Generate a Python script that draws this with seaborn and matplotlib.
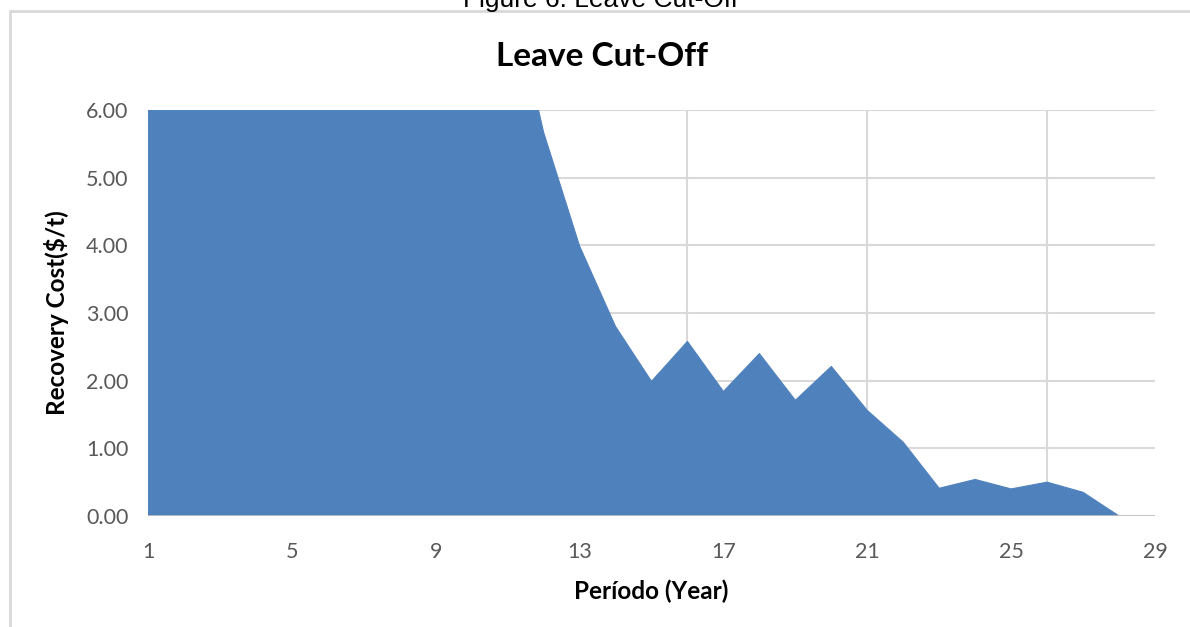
import matplotlib
matplotlib.use("Agg")
import matplotlib.pyplot as plt
import seaborn as sns
import pandas as pd
from matplotlib.patches import Rectangle

# ---- data (years 1-11 exceed the 6.00 axis limit) ----
years = list(range(1, 29))
recovery_cost = [60.0, 45.0, 35.0, 28.0, 22.0, 18.0, 15.0, 12.5, 10.5, 9.2, 8.0,
                 5.67, 3.99, 2.80, 1.99, 2.58, 1.84, 2.40, 1.71, 2.21, 1.56,
                 1.09, 0.41, 0.54, 0.40, 0.50, 0.35, 0.00]
x_ticks = [1, 5, 9, 13, 17, 21, 25, 29]
x_grid = [1, 6, 11, 16, 21, 26]
y_ticks = [0, 1, 2, 3, 4, 5, 6]

title = "Leave Cut-Off"
caption = "Figure 6: Leave Cut-Off"
x_label = "Período (Year)"
y_label = "Recovery Cost($/t)"

df = pd.DataFrame({"year": years, "cost": recovery_cost})

sns.set_theme(style="white")
plt.rcParams["font.family"] = ["Lato", "DejaVu Sans"]

fig = plt.figure(figsize=(11.9, 6.27), dpi=100)
ax = fig.add_axes([148 / 1190, 1 - 516 / 627, (1155 - 148) / 1190, (516 - 110) / 627])

fill_color = "#4F81BD"
grid_color = "#D9D9D9"

ax.set_xlim(1, 29)
ax.set_ylim(0, 6)

for gx in x_grid:
    ax.axvline(gx, color=grid_color, lw=1.5, zorder=0)
for gy in y_ticks[1:]:
    ax.axhline(gy, color=grid_color, lw=1.5, zorder=0)

ax.fill_between(df["year"], df["cost"], 0, color=fill_color, lw=0, zorder=2)
sns.lineplot(data=df, x="year", y="cost", ax=ax, color=fill_color, lw=0.8, zorder=3)

ax.axhline(0, color="#BFBFBF", lw=2, zorder=4)

ax.set_xticks(x_ticks)
ax.set_xticklabels([str(t) for t in x_ticks])
ax.set_yticks(y_ticks)
ax.set_yticklabels([f"{t:.2f}" for t in y_ticks])
ax.tick_params(axis="both", length=0, labelsize=15.5, colors="#595959")
ax.tick_params(axis="x", pad=19)
ax.tick_params(axis="y", pad=14)
for s in ax.spines.values():
    s.set_visible(False)

ax.set_xlabel(x_label, fontsize=17.5, fontweight="bold", color="black", labelpad=12)
ax.set_ylabel(y_label, fontsize=17.5, fontweight="bold", color="black", labelpad=12)

fig.text(602 / 1190, 1 - 57 / 627, title, ha="center", va="center",
         fontsize=24, fontweight="bold", color="black")

# caption (partly cut by the image top, as in the reference) and frame
fig.text(601 / 1190, 1 - 7 / 627, caption, ha="center", va="baseline",
         fontsize=19, color="black", family=["Liberation Sans", "DejaVu Sans"])
fig.patches.append(Rectangle((10 / 1190, -0.05), 1.2, 1 - 11 / 627 + 0.05,
                             transform=fig.transFigure, fill=False,
                             edgecolor="#D9D9D9", lw=2))

fig.savefig("out.png", dpi=100)
